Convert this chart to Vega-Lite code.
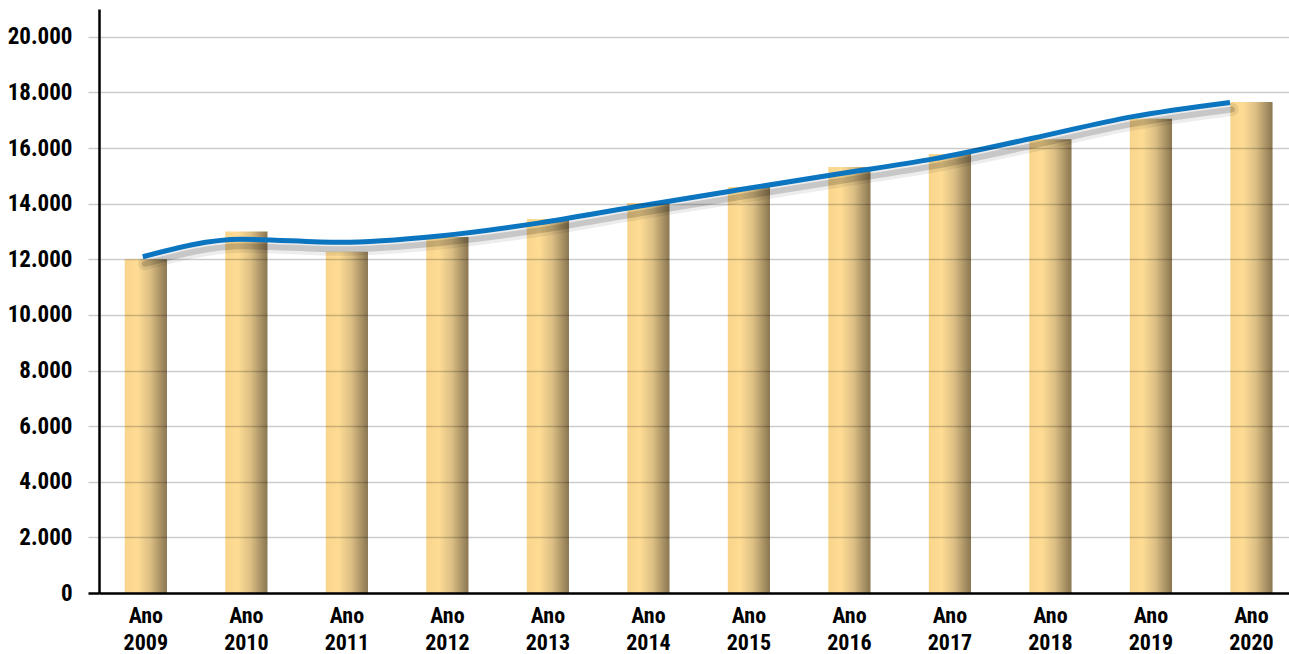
{
  "$schema": "https://vega.github.io/schema/vega-lite/v6.json",
  "width": 1190,
  "height": 584,
  "autosize": {"type": "none"},
  "padding": {"left": 99, "top": 9, "right": 0, "bottom": 61},
  "background": "white",
  "config": {
    "view": {"stroke": null},
    "font": "Roboto Condensed, Arial Narrow, Roboto, sans-serif"
  },
  "data": {
    "values": [
      {"ano": "2009", "valor": 12000, "linha": 12090},
      {"ano": "2010", "valor": 13000, "linha": 12720},
      {"ano": "2011", "valor": 12270, "linha": 12610},
      {"ano": "2012", "valor": 12800, "linha": 12840},
      {"ano": "2013", "valor": 13450, "linha": 13300},
      {"ano": "2014", "valor": 14020, "linha": 13900},
      {"ano": "2015", "valor": 14600, "linha": 14480},
      {"ano": "2016", "valor": 15320, "linha": 15050},
      {"ano": "2017", "valor": 15790, "linha": 15610},
      {"ano": "2018", "valor": 16320, "linha": 16350},
      {"ano": "2019", "valor": 17050, "linha": 17120},
      {"ano": "2020", "valor": 17660, "linha": 17640}
    ]
  },
  "layer": [
    {
      "mark": {
        "type": "bar",
        "fill": {
          "gradient": "linear",
          "x1": 0, "x2": 1, "y1": 0, "y2": 0,
          "stops": [
            {"offset": 0, "color": "#F9D58C"},
            {"offset": 0.3, "color": "#FEDC94"},
            {"offset": 0.6, "color": "#DCBF84"},
            {"offset": 1, "color": "#8A7651"}
          ]
        }
      },
      "encoding": {
        "x": {
          "field": "ano",
          "type": "ordinal",
          "scale": {"paddingInner": 0.58, "paddingOuter": 0.21, "align": 0.61},
          "axis": {
            "title": null,
            "labelAngle": 0,
            "labelExpr": "['Ano', datum.label]",
            "labelFont": "Roboto Condensed, Arial Narrow, Roboto, sans-serif",
            "labelFontSize": 22,
            "labelFontWeight": "bold",
            "labelColor": "#000",
            "labelLineHeight": 27,
            "labelPadding": 12,
            "labelBaseline": "top",
            "ticks": false,
            "domainColor": "#000",
            "domainWidth": 2.5,
            "zindex": 1
          }
        },
        "y": {
          "field": "valor",
          "type": "quantitative",
          "scale": {"domain": [0, 21000], "nice": false},
          "axis": {
            "title": null,
            "values": [0, 2000, 4000, 6000, 8000, 10000, 12000, 14000, 16000, 18000, 20000],
            "labelExpr": "replace(format(datum.value, ','), ',', '.')",
            "labelFont": "Roboto Condensed, Arial Narrow, Roboto, sans-serif",
            "labelFontSize": 23,
            "labelFontWeight": "bold",
            "labelColor": "#000",
            "labelPadding": 16,
            "tickSize": 11,
            "tickColor": {"condition": {"test": "datum.value === 0", "value": "#000"}, "value": "#cccccc"},
            "tickWidth": {"condition": {"test": "datum.value === 0", "value": 2.5}, "value": 1.5},
            "grid": true,
            "gridColor": "#000",
            "gridOpacity": 0.2,
            "gridWidth": 1.5,
            "domainColor": "#000",
            "domainWidth": 2.5,
            "zindex": 1
          }
        }
      }
    },
    {
      "encoding": {
        "x": {
          "field": "ano",
          "type": "ordinal",
          "scale": {"type": "point", "padding": 0.52, "align": 0.426},
          "axis": null
        },
        "y": {"field": "linha", "type": "quantitative", "title": null}
      },
      "layer": [
        {
          "mark": {"type": "line", "interpolate": "monotone", "stroke": "#000", "strokeWidth": 13, "opacity": 0.07, "yOffset": 7, "xOffset": 2, "strokeCap": "round"}
        },
        {
          "mark": {"type": "line", "interpolate": "monotone", "stroke": "#000", "strokeWidth": 6, "opacity": 0.16, "yOffset": 7, "xOffset": 2, "strokeCap": "round"}
        },
        {
          "mark": {"type": "line", "interpolate": "monotone", "stroke": "#0B75C0", "strokeWidth": 5}
        }
      ]
    }
  ],
  "resolve": {"scale": {"x": "independent"}}
}
